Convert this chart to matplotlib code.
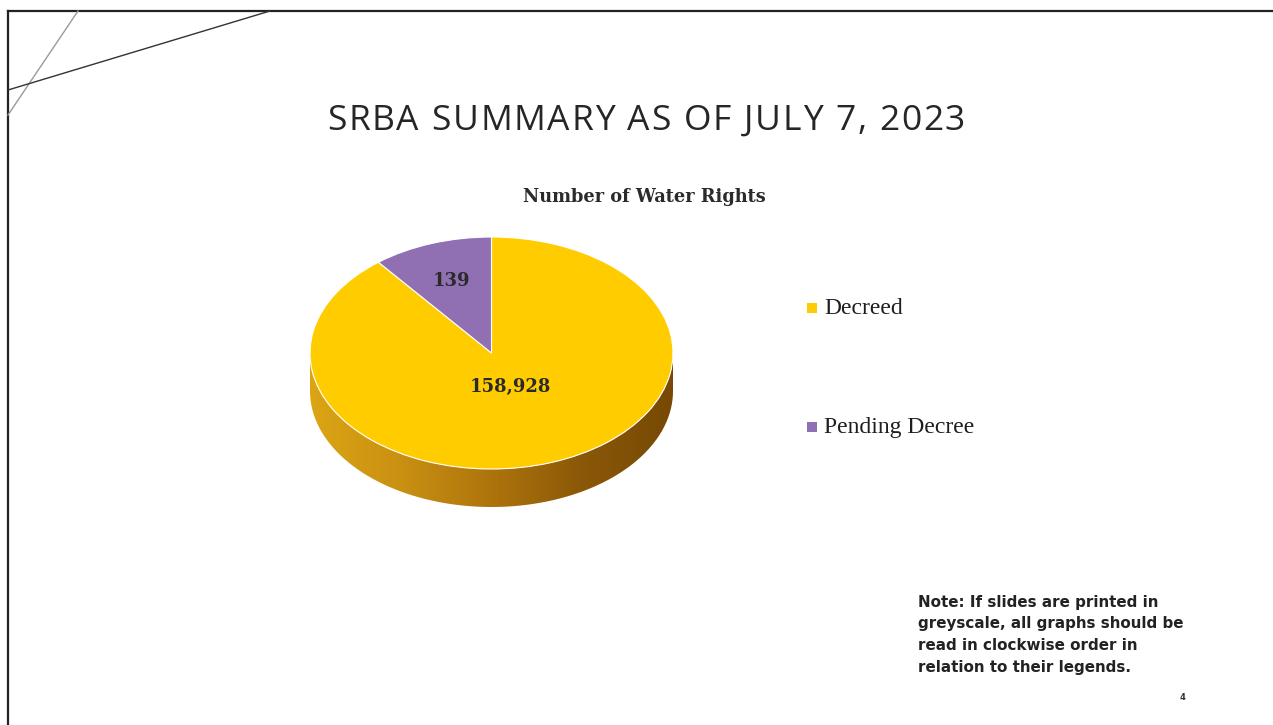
import matplotlib.pyplot as plt
import matplotlib.colors as mcolors
from matplotlib.patches import Polygon
from matplotlib.font_manager import FontProperties
import numpy as np

# data
categories = ['Decreed', 'Pending Decree']
counts = [158928, 139]
count_labels = ['158,928', '139']
# the slide draws the slices at these visual shares (not to scale with the counts)
slice_share = [89.3, 10.7]
colors = ['#FFCC00', '#9070B2']
label_radius = [0.31, 0.66]

W, H = 1273, 725
fig = plt.figure(figsize=(W / 100, H / 100), dpi=100)
fig.patch.set_facecolor('white')

# overlay axes in pixel coordinates for frame lines and slide text
bg = fig.add_axes([0, 0, 1, 1])
bg.set_xlim(0, W)
bg.set_ylim(H, 0)
bg.axis('off')
bg.plot([8, W], [11, 11], color='#222222', lw=1.6)
bg.plot([8, 8], [11, H], color='#222222', lw=1.6)
bg.plot([78, 8], [11, 115], color='#9a9a9a', lw=1.0)
bg.plot([270, 8], [11, 90], color='#333333', lw=1.0)

# slide title, lightly letter-spaced to span the same width as the original
title = 'SRBA SUMMARY AS OF JULY 7, 2023'
fp = FontProperties(family='Open Sans', size=25.5)
rend = fig.canvas.get_renderer()


def tw(s):
    return rend.get_text_width_height_descent('|' + s + '|', fp, False)[0]


base = tw('')
x_left, x_right = 327, 965
track = (x_right - x_left - (tw(title) - base)) / (len(title) - 1)
for i, ch in enumerate(title):
    if ch != ' ':
        bg.text(x_left + tw(title[:i]) - base + i * track, 121, ch, fontproperties=fp,
                color='#262626', ha='left', va='center')

bg.text(644, 197, 'Number of Water Rights', fontsize=12.8, family='DejaVu Serif',
        weight='bold', color='#2b2b2b', ha='center', va='center')

# legend
for i, (cat, c) in enumerate(zip(categories, colors)):
    y = 308 + i * 119
    bg.scatter([812], [y], marker='s', s=45, color=c, edgecolors='none')
    bg.text(824, y, cat, fontsize=17, family='Liberation Serif', color='#1e1e1e',
            ha='left', va='center')

note_lines = ['Note: If slides are printed in', 'greyscale, all graphs should be',
              'read in clockwise order in', 'relation to their legends.']
for i, line in enumerate(note_lines):
    bg.text(918, 602 + i * 21.7, line, fontsize=10.9, family='DejaVu Sans', weight='bold',
            color='#222222', ha='left', va='center')
bg.text(1182, 697, '4', fontsize=6, family='DejaVu Sans', weight='bold', color='#333333',
        ha='center', va='center')

# pie axes: unit circle -> ellipse 181.5 x 116 px, centre at (491.5, 353)
cx, cy, rx, ry = 491.5, 353, 181.5, 116
depth = 38 / ry
L, R, T, B = 280, 700, 215, 530
ax = fig.add_axes([L / W, (H - B) / H, (R - L) / W, (B - T) / H])
wedges, _ = ax.pie(slice_share, colors=colors, startangle=90, counterclock=False,
                   radius=1, wedgeprops=dict(edgecolor='white', linewidth=0.8))
for w in wedges:
    w.set_zorder(5)
ax.set_aspect('auto')
ax.axis('off')

# side wall of the 3D pie with a left-to-right gradient
t = np.linspace(np.pi, 2 * np.pi, 200)
top_edge = np.column_stack([np.cos(t), np.sin(t)])
bot_edge = np.column_stack([np.cos(t[::-1]), np.sin(t[::-1]) - depth])
side = Polygon(np.vstack([top_edge, bot_edge]), closed=True, facecolor='none',
               edgecolor='none', transform=ax.transData)
ax.add_patch(side)
cmap = mcolors.LinearSegmentedColormap.from_list(
    'side', ['#DCA514', '#C99012', '#AE740C', '#8A5808', '#774904'])
grad = np.linspace(0, 1, 256).reshape(1, -1)
im = ax.imshow(grad, cmap=cmap, extent=(-1, 1, -1 - depth, 0), aspect='auto',
               zorder=2, origin='lower')
im.set_clip_path(side)
ax.set_xlim((L - cx) / rx, (R - cx) / rx)
ax.set_ylim(-(B - cy) / ry, (cy - T) / ry)

# value labels at each slice's mid-angle
start = 90.0
for share, lab, r in zip(slice_share, count_labels, label_radius):
    ang = np.deg2rad(start - share / 100 * 360 / 2)
    ax.text(r * np.cos(ang), r * np.sin(ang), lab, fontsize=13, family='DejaVu Serif',
            weight='bold', color='#2a2a2a', ha='center', va='center', zorder=10)
    start -= share / 100 * 360

fig.savefig('out.png', dpi=100, facecolor='white')
